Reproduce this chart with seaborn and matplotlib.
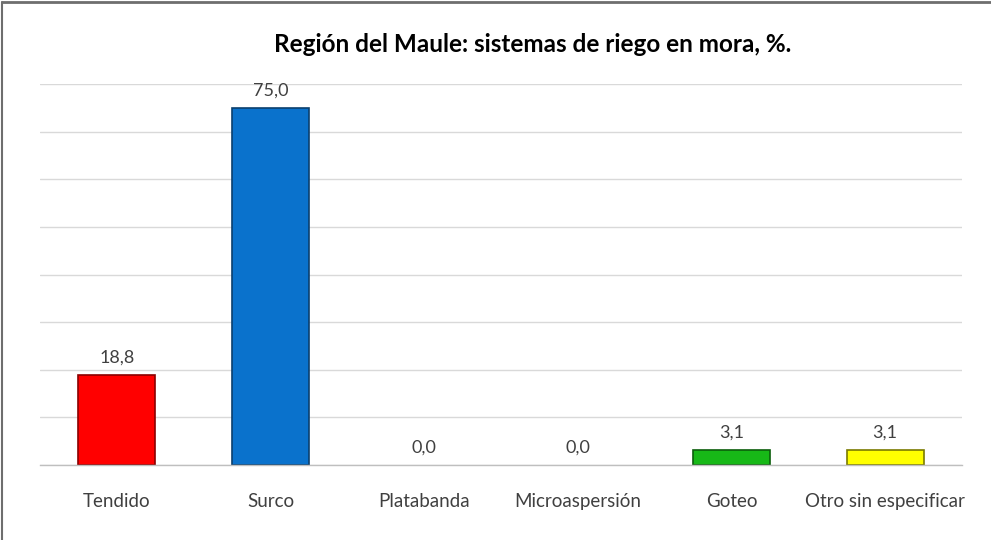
import matplotlib
matplotlib.use('Agg')
import matplotlib.pyplot as plt
from matplotlib.lines import Line2D
import seaborn as sns
import pandas as pd
import numpy as np

categories = ['Tendido', 'Surco', 'Platabanda', 'Microaspersión', 'Goteo', 'Otro sin especificar']
values = [18.8, 75.0, 0.0, 0.0, 3.1, 3.1]
bar_colors = ['#FF0000', '#0A72CC', '#FF00FF', '#00FFFF', '#17B817', '#FFFF00']
edge_colors = ['#8B0000', '#0B3F6E', '#800080', '#008080', '#0B5E0B', '#7A7A00']
title = 'Región del Maule: sistemas de riego en mora, %.'

sns.set_theme(style='white')
plt.rcParams['font.family'] = ['Lato', 'DejaVu Sans']

df = pd.DataFrame({'cat': categories, 'val': values})

fig = plt.figure(figsize=(9.91, 5.40), dpi=100)
ax = fig.add_axes([0.0404, 0.1389, 0.9303, 0.7055])

sns.barplot(data=df, x='cat', y='val', hue='cat', palette=bar_colors,
            width=0.5, legend=False, ax=ax, saturation=1)
for patch, ec, v in zip(ax.patches, edge_colors, values):
    patch.set_edgecolor(ec)
    patch.set_linewidth(1.2 if v > 0 else 0)
    if v == 0:
        patch.set_visible(False)

for i, v in enumerate(values):
    ax.text(i, v + 2.0, f'{v:.1f}'.replace('.', ','), ha='center', va='bottom',
            fontsize=13, color='#404040')

ax.set_ylim(0, 80)
ax.set_xlim(-0.5, len(categories) - 0.5)
ax.set_yticks(np.arange(0, 81, 10))
ax.set_yticklabels([])
ax.yaxis.grid(True, color='#D9D9D9', linewidth=1)
ax.set_axisbelow(True)
ax.tick_params(axis='y', length=0)
ax.set_xlabel('')
ax.set_ylabel('')
ax.tick_params(axis='x', which='major', length=0, labelsize=13.5, labelcolor='#404040', pad=20)
ax.set_xticks(np.arange(-0.5, len(categories)), minor=True)
ax.tick_params(axis='x', which='minor', length=5, color='#BFBFBF', width=1, direction='out')
for s in ['top', 'right', 'left']:
    ax.spines[s].set_visible(False)
ax.spines['bottom'].set_color('#BFBFBF')
ax.spines['bottom'].set_linewidth(1)

fig.text(0.537, 0.918, title, ha='center', va='center', fontsize=17.5,
         fontweight='bold', color='#000000')

fig.add_artist(Line2D([0.002, 1.0], [0.996, 0.996], transform=fig.transFigure,
                      color='#6E6E6E', linewidth=2))
fig.add_artist(Line2D([0.002, 0.002], [0.0, 0.996], transform=fig.transFigure,
                      color='#6E6E6E', linewidth=1.5))

fig.savefig('out.png', dpi=100)
